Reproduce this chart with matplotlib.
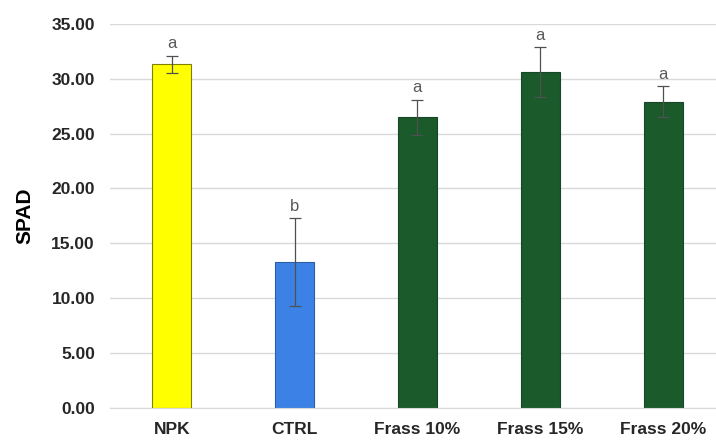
import matplotlib.pyplot as plt
import numpy as np

treatments = ["NPK", "CTRL", "Frass 10%", "Frass 15%", "Frass 20%"]
spad_mean = [31.3, 13.3, 26.5, 30.6, 27.9]
spad_err = [0.8, 4.0, 1.6, 2.3, 1.4]
groups = ["a", "b", "a", "a", "a"]
bar_colors = ["#ffff00", "#3c82e6", "#1b5a2b", "#1b5a2b", "#1b5a2b"]
edge_colors = ["#808000", "#2a5fa8", "#16472a", "#16472a", "#16472a"]


def main():
    plt.rcParams["font.family"] = ["Liberation Sans", "DejaVu Sans"]
    fig = plt.figure(figsize=(7.16, 4.41), dpi=100)
    ax = fig.add_axes([0.154, 0.075, 0.846, 0.871])

    x = np.arange(len(treatments))
    ax.bar(x, spad_mean, width=0.32, color=bar_colors, edgecolor=edge_colors,
           linewidth=0.8, zorder=2)
    ax.errorbar(x, spad_mean, yerr=spad_err, fmt="none", ecolor="#505050",
                elinewidth=0.9, capsize=4, capthick=0.9, zorder=3)

    # significance letters above the error bars
    for xi, m, e, g in zip(x, spad_mean, spad_err, groups):
        ax.annotate(g, (xi, m + e), xytext=(0, 3), textcoords="offset points",
                    ha="center", va="bottom", fontsize=12, color="#595959")

    ax.set_ylim(0, 35)
    ax.set_xlim(-0.5, 4.43)
    ax.set_yticks(np.arange(0, 36, 5))
    ax.set_yticklabels([f"{v:.2f}" for v in np.arange(0, 36, 5)])
    ax.set_xticks(x)
    ax.set_xticklabels(treatments)
    for lab in ax.get_xticklabels() + ax.get_yticklabels():
        lab.set_fontweight("bold")
        lab.set_fontsize(12.5)
        lab.set_color("#262626")
    ax.tick_params(axis="y", length=0, pad=11)
    ax.tick_params(axis="x", length=0, pad=10)
    ax.yaxis.grid(True, color="#d9d9d9", linewidth=1.0, zorder=0)
    ax.set_axisbelow(True)
    for s in ["top", "right", "left"]:
        ax.spines[s].set_visible(False)
    ax.spines["bottom"].set_color("#d9d9d9")
    ax.set_ylabel("SPAD", fontsize=15, fontweight="bold", labelpad=12)

    fig.savefig("out.png", dpi=100)


if __name__ == "__main__":
    main()
